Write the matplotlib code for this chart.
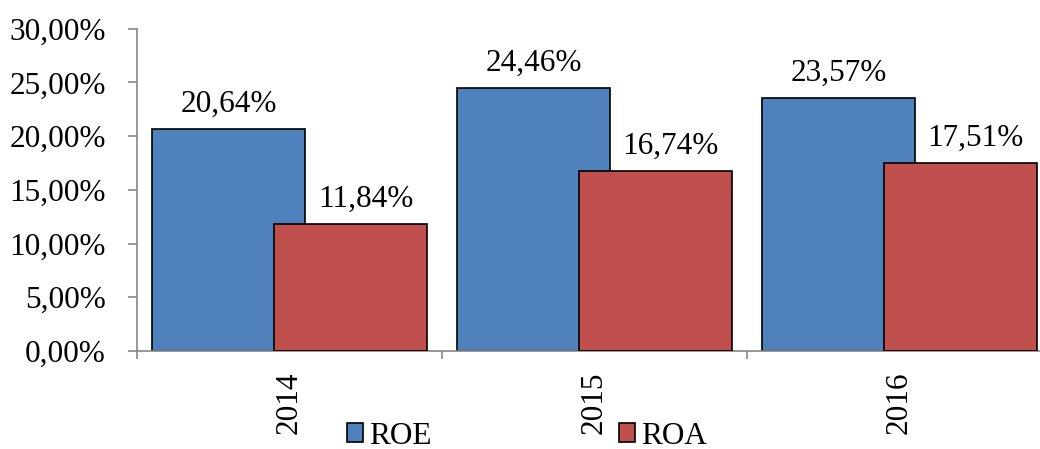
import numpy as np
import matplotlib.pyplot as plt
from matplotlib.ticker import FuncFormatter, FixedLocator

years = ["2014", "2015", "2016"]
roe = [20.64, 24.46, 23.57]
roa = [11.84, 16.74, 17.51]

BLUE = "#4F81BD"
RED = "#C0504D"
GRAY = "#868686"
FS = 22.5

plt.rcParams['font.family'] = ['Liberation Serif', 'DejaVu Serif']


def pct(v):
    return f"{v:.2f}%".replace('.', ',')


fig = plt.figure(figsize=(10.4, 4.49), dpi=100)
ax = fig.add_axes([0.1317, 0.2183, 0.8798, 0.7178])

x = np.arange(len(years))
w = 0.5
b1 = ax.bar(x - 0.2, roe, w, color=BLUE, edgecolor='black', linewidth=1.2, label='ROE', zorder=2)
b2 = ax.bar(x + 0.2, roa, w, color=RED, edgecolor='black', linewidth=1.2, label='ROA', zorder=3)

# etiquetas: ROE centrada en su barra, ROA centrada en la parte visible
for bars, vals, shift in ((b1, roe, 0.0), (b2, roa, 0.05)):
    for rect, v in zip(bars, vals):
        ax.annotate(pct(v), xy=(rect.get_x() + rect.get_width() / 2 + shift, v),
                    xytext=(0, 12.5), textcoords='offset points',
                    ha='center', va='baseline', fontsize=FS)

ax.set_xlim(-0.5, 2.5)
ax.set_ylim(0, 30)
ax.set_yticks(np.arange(0, 31, 5))
ax.yaxis.set_major_formatter(FuncFormatter(lambda v, p: pct(v)))

ax.set_xticks(x)
ax.set_xticklabels(years, rotation=90, fontsize=FS)
ax.xaxis.set_minor_locator(FixedLocator([-0.5, 0.5, 1.5, 2.5]))
ax.tick_params(axis='x', which='major', length=0, pad=15)
ax.tick_params(axis='x', which='minor', length=6, width=1.2, color=GRAY, direction='out')
ax.tick_params(axis='y', length=6.5, width=1.2, color=GRAY, pad=16, labelsize=FS)

for s in ('top', 'right'):
    ax.spines[s].set_visible(False)
for s in ('left', 'bottom'):
    ax.spines[s].set_color(GRAY)
    ax.spines[s].set_linewidth(1.2)

leg = fig.legend(handles=[b1, b2], loc='center', bbox_to_anchor=(527 / 1040, 1 - 436 / 449),
                 ncol=2, frameon=False, fontsize=FS, handlelength=0.5, handleheight=0.55,
                 handletextpad=0.2, columnspacing=6.0, borderpad=0)
for h in leg.legend_handles:
    h.set_edgecolor('black')
    h.set_linewidth(1.2)

fig.savefig("out.png", dpi=100)
